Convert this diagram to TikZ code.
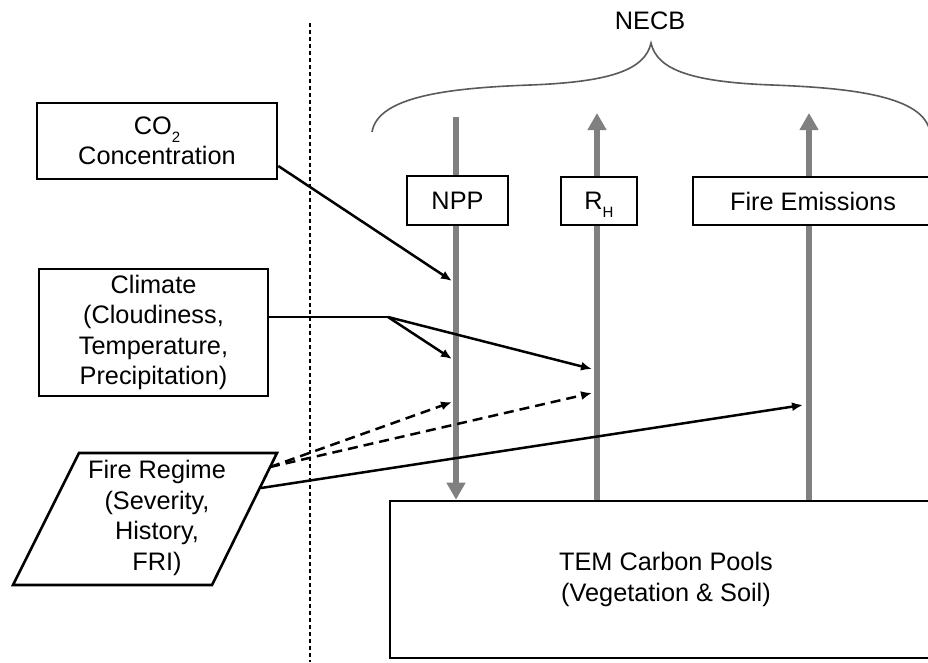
\documentclass[tikz,border=0pt]{standalone}
\usepackage{fontspec}
\setmainfont{Liberation Sans}
\usetikzlibrary{arrows.meta,calc}
\definecolor{flowgray}{HTML}{808080}
\definecolor{bracegray}{HTML}{5A5A5A}
\newcommand{\sbs}[1]{\raisebox{-0.32em}[0pt][0pt]{\fontsize{15}{15}\selectfont #1}}
\begin{document}
\begin{tikzpicture}[x=1pt,y=-1pt,
  font=\fontsize{25.3}{30.5}\selectfont,
  box/.style={draw=black,line width=2.6pt,fill=white,align=center,inner sep=0pt},
  label/.style={align=center,inner sep=0pt},
  flow/.style={draw=flowgray,line width=6pt,-{Triangle[length=17pt,width=18pt]}},
  link/.style={draw=black,line width=2.5pt,-{Latex[length=11pt,width=9pt]}},
  dlink/.style={link,dash pattern=on 10pt off 6pt},
  divider/.style={draw=black,line width=1.4pt,dash pattern=on 4pt off 3pt},
  bracestyle/.style={draw=bracegray,line width=1.6pt}]
\clip (0,0) rectangle (928,662);
\fill[white] (0,0) rectangle (928,662);

% divider
\coordinate (divtop) at (310,23);
\coordinate (divbot) at (310,662);
\draw[divider] (divtop) -- (divbot);

% brace and NECB
\node[label] (necb) at (650,21) {NECB};
\draw[bracestyle] (372,132) .. controls (378,96) and (450,88) .. (530,85)
  .. controls (610,82) and (645,70) .. (651,43)
  .. controls (657,70) and (692,82) .. (772,85)
  .. controls (852,88) and (924,96) .. (930,132);

% TEM pools
\node[box,minimum width=552pt,minimum height=157pt] (tem) at (666,579.5)
  {TEM Carbon Pools\\(Vegetation \& Soil)};

% flow lines
\coordinate (npptop) at (456,117);
\coordinate (rhtop) at (597,113);
\coordinate (fetop) at (809,113);
\draw[flow] (npptop) -- (npptop |- tem.north);
\draw[flow] (rhtop |- tem.north) -- (rhtop);
\draw[flow] (fetop |- tem.north) -- (fetop);

% flux boxes
\node[box,minimum width=101pt,minimum height=49pt] (npp) at (457.5,200.5) {NPP};
\node[box,minimum width=76pt,minimum height=48pt] (rh) at (599,201) {R\sbs{H}};
\node[box,minimum width=240pt,minimum height=48pt] (fe) at (813,201) {Fire Emissions};

% driver boxes
\node[box,minimum width=240pt,minimum height=76pt] (co2) at (157,141)
  {CO\sbs{2}\\Concentration};
\node[box,minimum width=229pt,minimum height=127pt] (clim) at (153.5,332.5)
  {Climate\\(Cloudiness,\\Temperature,\\Precipitation)};
\draw[black,line width=2.6pt,fill=white] (79,453) -- (277,453) -- (212,585) -- (13,585) -- cycle;
\node[label] (fire) at (157,518) {Fire Regime\\(Severity,\\History,\\FRI)};

% connector ends
\coordinate (nppA) at (452,281);
\coordinate (nppB) at (452,359);
\coordinate (nppC) at (452,402);
\coordinate (rhA) at (592,369);
\coordinate (rhB) at (592,393);
\coordinate (feA) at (803,405);
\coordinate (branch) at (388,317);
\coordinate (fireD) at (270,467);
\coordinate (fireS) at (261,488);

\draw[link] ([yshift=-25pt]co2.east) -- (nppA);
\draw[black,line width=2.5pt] ([yshift=15.5pt]clim.east) -- (branch);
\draw[link] (branch) -- (nppB);
\draw[link] (branch) -- (rhA);
\draw[dlink] (fireD) -- (nppC);
\draw[dlink] (fireD) -- (rhB);
\draw[link] (fireS) -- (feA);
\end{tikzpicture}
\end{document}
